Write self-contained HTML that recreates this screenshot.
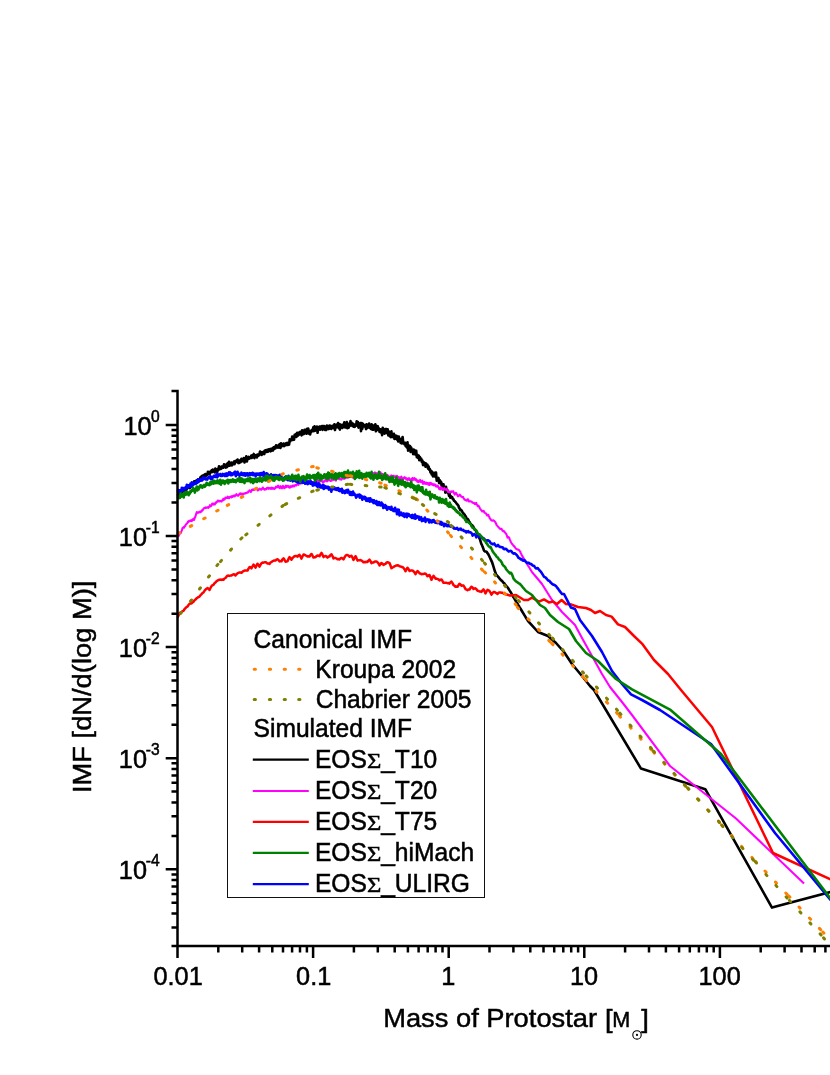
<!DOCTYPE html>
<html><head><meta charset="utf-8"><title>IMF</title>
<style>html,body{margin:0;padding:0;background:#fff}svg{display:block;will-change:transform}</style></head>
<body>
<svg width="830" height="1075" viewBox="0 0 830 1075">
<rect width="830" height="1075" fill="#fff"/>
<defs><clipPath id="pc"><rect x="176.5" y="380" width="660" height="566"/></clipPath></defs>
<g clip-path="url(#pc)" fill="none" stroke-linejoin="round" stroke-linecap="butt">
<path d="M177.5,495.8 L178.1,494.1 L178.7,495.5 L179.4,492.0 L180.0,494.1 L180.6,492.6 L181.2,493.1 L181.8,491.4 L182.5,491.8 L183.1,489.4 L183.7,491.2 L184.3,489.3 L184.9,491.0 L185.6,489.1 L186.2,490.4 L186.8,487.1 L187.4,488.5 L188.0,485.4 L188.7,486.9 L189.3,486.2 L189.9,488.1 L190.5,485.8 L191.1,486.7 L191.8,483.6 L192.4,485.5 L193.0,483.7 L193.6,483.7 L194.2,481.2 L194.9,482.5 L195.5,481.1 L196.1,481.7 L196.7,480.4 L197.3,481.3 L198.0,479.7 L198.6,480.1 L199.2,479.2 L199.8,479.7 L200.4,477.2 L201.1,479.8 L201.7,476.1 L202.3,477.8 L202.9,475.5 L203.5,476.2 L204.2,474.8 L204.8,476.4 L205.4,474.0 L206.0,475.9 L206.6,474.0 L207.3,475.1 L207.9,471.8 L208.5,473.9 L209.1,472.2 L209.7,474.1 L210.4,471.5 L211.0,472.2 L211.6,470.4 L212.2,472.1 L212.8,469.5 L213.5,471.3 L214.1,470.2 L214.7,472.3 L215.3,468.6 L215.9,470.9 L216.6,469.6 L217.2,472.4 L217.8,468.7 L218.4,470.0 L219.0,466.3 L219.7,469.3 L220.3,467.7 L220.9,468.8 L221.5,466.6 L222.1,468.1 L222.8,466.3 L223.4,467.7 L224.0,464.3 L224.6,466.7 L225.2,465.2 L225.9,467.6 L226.5,464.2 L227.1,467.1 L227.7,463.1 L228.3,465.7 L229.0,461.9 L229.6,465.7 L230.2,464.0 L230.8,465.2 L231.4,462.6 L232.1,465.3 L232.7,463.5 L233.3,463.4 L233.9,461.7 L234.5,464.3 L235.2,461.1 L235.8,462.1 L236.4,460.6 L237.0,462.0 L237.6,459.6 L238.3,463.1 L238.9,461.2 L239.5,462.8 L240.1,460.4 L240.7,462.2 L241.4,458.8 L242.0,461.3 L242.6,460.1 L243.2,460.8 L243.8,458.0 L244.5,462.5 L245.1,458.8 L245.7,460.7 L246.3,456.3 L246.9,461.5 L247.6,457.6 L248.2,459.0 L248.8,456.9 L249.4,458.6 L250.0,457.5 L250.7,457.9 L251.3,455.5 L251.9,457.9 L252.5,455.4 L253.1,456.4 L253.8,453.9 L254.4,458.1 L255.0,456.0 L255.6,456.6 L256.2,455.1 L256.9,457.4 L257.5,454.6 L258.1,455.9 L258.7,454.3 L259.3,455.1 L260.0,451.5 L260.6,454.1 L261.2,452.2 L261.8,454.9 L262.4,452.7 L263.1,453.0 L263.7,451.5 L264.3,454.1 L264.9,450.5 L265.5,452.0 L266.2,450.1 L266.8,451.9 L267.4,449.8 L268.0,451.7 L268.6,449.4 L269.3,450.7 L269.9,449.1 L270.5,451.3 L271.1,448.9 L271.7,450.8 L272.4,448.3 L273.0,450.5 L273.6,447.2 L274.2,449.0 L274.8,446.8 L275.5,448.4 L276.1,445.2 L276.7,447.2 L277.3,446.6 L277.9,447.6 L278.6,445.2 L279.2,447.4 L279.8,444.1 L280.4,448.0 L281.0,443.3 L281.7,446.4 L282.3,444.5 L282.9,445.7 L283.5,443.5 L284.1,446.2 L284.8,444.0 L285.4,445.4 L286.0,443.3 L286.6,445.0 L287.2,442.9 L287.9,444.9 L288.5,442.9 L289.1,444.6 L289.7,439.3 L290.3,441.2 L291.0,439.5 L291.6,439.9 L292.2,436.5 L292.8,440.0 L293.4,437.3 L294.1,439.7 L294.7,434.7 L295.3,436.5 L295.9,434.2 L296.5,436.9 L297.2,432.7 L297.8,435.7 L298.4,433.3 L299.0,434.8 L299.6,432.1 L300.3,433.8 L300.9,431.8 L301.5,435.4 L302.1,430.2 L302.7,434.4 L303.4,431.0 L304.0,433.9 L304.6,429.7 L305.2,433.3 L305.8,429.8 L306.5,433.8 L307.1,428.8 L307.7,431.1 L308.3,428.6 L308.9,433.6 L309.6,431.1 L310.2,434.4 L310.8,430.7 L311.4,431.9 L312.0,429.8 L312.7,430.8 L313.3,427.3 L313.9,431.2 L314.5,426.4 L315.1,430.6 L315.8,428.0 L316.4,429.8 L317.0,426.6 L317.6,432.8 L318.2,427.4 L318.9,429.2 L319.5,426.6 L320.1,429.7 L320.7,426.5 L321.3,428.8 L322.0,426.1 L322.6,429.9 L323.2,426.1 L323.8,427.5 L324.4,426.1 L325.1,430.0 L325.7,426.9 L326.3,430.0 L326.9,425.6 L327.5,428.1 L328.2,426.3 L328.8,429.1 L329.4,425.6 L330.0,428.5 L330.6,425.7 L331.3,429.0 L331.9,426.4 L332.5,427.2 L333.1,425.6 L333.7,428.2 L334.4,424.2 L335.0,430.0 L335.6,425.5 L336.2,427.6 L336.8,424.6 L337.5,426.6 L338.1,423.0 L338.7,428.2 L339.3,424.3 L339.9,429.6 L340.6,424.5 L341.2,426.8 L341.8,425.4 L342.4,428.0 L343.0,424.6 L343.7,426.3 L344.3,422.2 L344.9,427.4 L345.5,424.1 L346.1,427.4 L346.8,422.1 L347.4,428.2 L348.0,425.0 L348.6,427.7 L349.2,423.5 L349.9,425.9 L350.5,421.1 L351.1,425.3 L351.7,422.7 L352.3,425.9 L353.0,423.7 L353.6,426.7 L354.2,424.5 L354.8,426.8 L355.4,424.6 L356.1,425.4 L356.7,421.2 L357.3,425.9 L357.9,422.0 L358.5,427.6 L359.2,423.8 L359.8,425.5 L360.4,423.1 L361.0,431.1 L361.6,423.1 L362.3,428.9 L362.9,423.8 L363.5,426.3 L364.1,424.9 L364.7,426.5 L365.4,425.0 L366.0,429.1 L366.6,424.2 L367.2,428.1 L367.8,425.2 L368.5,427.4 L369.1,423.6 L369.7,427.9 L370.3,426.6 L370.9,428.9 L371.6,424.3 L372.2,429.6 L372.8,425.3 L373.4,429.8 L374.0,426.9 L374.7,428.8 L375.3,424.4 L375.9,431.3 L376.5,425.7 L377.1,429.7 L377.8,426.3 L378.4,430.3 L379.0,428.5 L379.6,431.9 L380.2,429.3 L380.9,432.4 L381.5,429.6 L382.1,435.2 L382.7,427.8 L383.3,432.2 L384.0,429.6 L384.6,433.7 L385.2,429.0 L385.8,432.9 L386.4,429.1 L387.1,433.2 L387.7,429.3 L388.3,435.3 L388.9,431.5 L389.5,436.1 L390.2,432.6 L390.8,437.2 L391.4,431.3 L392.0,436.9 L392.6,434.8 L393.3,437.1 L393.9,433.9 L394.5,439.0 L395.1,435.5 L395.7,438.8 L396.4,435.7 L397.0,439.6 L397.6,436.6 L398.2,441.5 L398.8,436.6 L399.5,441.2 L400.1,438.9 L400.7,443.0 L401.3,438.9 L401.9,443.5 L402.6,437.0 L403.2,442.4 L403.8,442.6 L404.4,444.2 L405.0,442.8 L405.7,446.2 L406.3,443.8 L406.9,447.5 L407.5,442.2 L408.1,450.6 L408.8,445.5 L409.4,448.1 L410.0,446.0 L410.6,451.9 L411.2,447.5 L411.9,450.5 L412.5,449.6 L413.1,454.2 L413.7,449.5 L414.3,454.1 L415.0,450.6 L415.6,454.6 L416.2,450.7 L416.8,457.1 L417.4,454.8 L418.1,457.9 L418.7,455.5 L419.3,460.3 L419.9,457.0 L420.5,459.9 L421.2,458.7 L421.8,462.0 L422.4,460.5 L423.0,465.1 L423.6,462.3 L424.3,465.0 L424.9,462.9 L425.5,466.7 L426.1,463.5 L426.7,465.8 L427.4,464.6 L428.0,468.6 L428.6,466.4 L429.2,469.7 L429.8,469.0 L430.5,472.5 L431.1,470.8 L431.7,474.5 L432.3,471.7 L432.9,476.4 L433.6,474.0 L434.2,476.1 L434.8,472.8 L435.4,476.9 L436.0,472.5 L436.7,480.7 L437.3,478.5 L437.9,480.2 L438.5,477.9 L439.1,483.2 L439.8,480.3 L440.4,482.6 L441.0,481.6 L441.6,485.9 L442.2,483.7 L442.9,489.2 L443.5,484.4 L444.1,489.2 L444.7,487.0 L445.3,492.6 L446.0,486.7 L446.6,491.5 L447.2,489.9 L447.8,493.1 L448.4,492.9 L449.1,496.0 L449.7,493.8 L450.3,497.8 L450.9,496.2 L451.5,497.1 L452.2,497.1 L452.8,499.1 L453.4,499.1 L454.0,500.8 L454.6,501.0 L455.3,501.9 L455.9,502.3 L456.5,503.4 L457.1,503.9 L457.7,505.0 L458.4,505.7 L459.0,507.8 L459.6,508.3 L460.2,510.1 L460.8,509.7 L461.5,510.4 L462.1,511.2 L462.7,512.8 L463.3,513.0 L463.9,514.1 L464.6,514.6 L465.2,515.8 L465.8,516.4 L466.4,518.1 L467.0,518.6 L467.7,519.0 L468.3,519.8 L468.9,521.2 L469.5,522.0 L470.1,522.9 L470.8,523.9 L471.4,525.1 L472.0,525.0 L472.6,525.8 L473.2,526.4 L473.9,528.0 L474.5,529.4 L475.1,529.9 L475.7,530.3 L476.3,531.7 L477.0,532.8 L477.6,534.1 L478.2,535.3 L478.8,537.0 L479.4,538.2 L480.1,539.8 L480.7,541.8 L481.3,543.8 L481.9,544.9 L482.5,546.6 L483.2,548.2 L483.8,550.1 L484.4,551.0 L485.0,551.4 L485.6,551.5 L486.3,551.7 L486.9,552.1 L487.5,553.3 L488.1,553.8 L488.7,555.2 L489.4,556.4 L490.0,557.8 L490.6,559.1 L491.2,560.5 L491.8,561.5 L492.5,563.5 L493.1,565.4 L493.7,567.4 L494.3,569.4 L494.9,571.3 L495.6,572.9 L496.2,574.8 L496.8,575.3 L497.4,576.1 L498.0,576.6 L498.7,577.4 L499.3,578.1 L499.9,579.1 L500.5,579.6 L501.1,580.3 L501.8,580.6 L502.4,581.4 L503.0,582.1 L503.6,582.8 L504.2,583.1 L504.9,584.2 L505.5,585.0 L506.1,585.9 L506.7,586.5 L507.3,587.1 L508.0,587.8 L508.6,589.0 L509.2,589.9 L509.8,590.9 L510.4,591.8 L511.1,592.9 L511.7,594.0 L512.3,595.2 L512.9,596.2 L513.5,597.3 L514.2,598.2 L514.8,599.3 L515.4,600.3 L516.0,601.5 L516.6,602.5 L517.3,603.5 L517.9,604.5 L518.5,605.6 L519.1,606.4 L519.7,607.4 L520.4,608.4 L521.0,609.5 L521.6,610.5 L522.2,611.5 L522.8,612.5 L523.5,613.6 L524.1,614.7 L524.7,615.7 L525.3,616.7 L525.9,617.7 L526.6,618.7 L527.2,619.7 L527.8,620.7 L528.4,621.5 L529.0,622.2 L529.7,622.8 L538.0,632.0 L548.0,636.0 L556.0,643.0 L564.0,652.0 L572.0,664.0 L582.0,676.0 L590.0,686.0 L594.0,690.0 L641.0,768.6 L705.3,789.2 L772.0,907.6 L832.0,891.5" stroke="#000" stroke-width="2.6"/>
<path d="M177.5,536.0 L178.1,535.1 L178.6,536.1 L179.2,534.7 L179.7,533.7 L180.3,532.6 L180.8,532.9 L181.4,531.4 L181.9,530.4 L182.5,528.1 L183.0,528.0 L183.6,527.1 L184.1,527.7 L184.7,526.3 L185.2,526.1 L185.8,524.5 L186.3,524.1 L186.9,523.5 L187.4,523.2 L188.0,521.6 L188.5,522.0 L189.1,520.8 L189.6,520.9 L190.2,520.5 L190.7,520.9 L191.3,520.2 L191.8,521.1 L192.4,519.8 L192.9,519.4 L193.5,518.7 L194.0,520.0 L194.6,518.3 L195.1,517.3 L195.7,515.5 L196.2,513.9 L196.8,512.2 L197.3,512.9 L197.9,512.3 L198.4,512.7 L199.0,512.1 L199.5,512.3 L200.1,511.5 L200.6,512.2 L201.2,511.0 L201.7,511.2 L202.3,509.9 L202.8,510.1 L203.4,508.9 L203.9,508.3 L204.5,508.0 L205.0,508.2 L205.6,507.3 L206.1,508.0 L206.7,507.5 L207.2,507.5 L207.8,507.2 L208.3,507.9 L208.9,506.9 L209.4,506.8 L210.0,505.2 L210.5,506.3 L211.1,505.9 L211.6,505.5 L212.2,503.7 L212.7,504.2 L213.3,503.6 L213.8,504.6 L214.4,504.2 L214.9,504.4 L215.5,502.6 L216.0,502.9 L216.6,501.8 L217.1,501.9 L217.7,500.7 L218.2,501.3 L218.8,500.7 L219.3,501.5 L219.9,501.0 L220.4,501.2 L221.0,500.7 L221.5,501.5 L222.1,500.7 L222.6,500.3 L223.2,498.8 L223.7,500.1 L224.3,498.8 L224.8,499.1 L225.4,497.5 L225.9,498.0 L226.5,497.7 L227.0,497.9 L227.6,496.7 L228.1,497.8 L228.7,497.4 L229.2,498.1 L229.8,497.0 L230.3,496.8 L230.9,496.6 L231.4,497.3 L232.0,496.1 L232.5,496.8 L233.1,495.9 L233.6,496.1 L234.2,495.3 L234.7,496.4 L235.3,495.3 L235.8,495.4 L236.4,494.2 L236.9,495.3 L237.5,495.4 L238.0,495.8 L238.6,495.0 L239.1,494.8 L239.7,493.5 L240.2,494.4 L240.8,493.4 L241.3,494.1 L241.9,493.8 L242.4,494.6 L243.0,493.6 L243.5,494.0 L244.1,493.5 L244.6,493.6 L245.2,493.0 L245.7,493.3 L246.3,492.7 L246.8,492.9 L247.4,492.4 L247.9,492.5 L248.5,491.2 L249.0,491.3 L249.6,490.3 L250.1,491.5 L250.7,491.9 L251.2,491.4 L251.8,489.8 L252.3,490.2 L252.9,489.4 L253.4,489.9 L254.0,489.4 L254.5,489.8 L255.1,488.6 L255.6,488.9 L256.2,488.5 L256.7,489.3 L257.3,489.6 L257.8,490.5 L258.4,489.3 L258.9,489.6 L259.5,488.7 L260.0,489.3 L260.6,489.3 L261.1,489.8 L261.7,488.9 L262.2,488.9 L262.8,487.5 L263.3,488.8 L263.9,488.8 L264.4,489.6 L265.0,488.8 L265.5,489.4 L266.1,488.7 L266.6,489.1 L267.2,487.7 L267.7,487.7 L268.3,487.8 L268.8,488.8 L269.4,488.1 L269.9,488.3 L270.5,488.0 L271.0,488.9 L271.6,487.6 L272.1,488.6 L272.7,487.9 L273.2,488.7 L273.8,488.4 L274.3,489.0 L274.9,488.0 L275.4,488.2 L276.0,486.7 L276.5,487.3 L277.1,486.5 L277.6,487.2 L278.2,485.7 L278.7,487.3 L279.3,487.0 L279.8,488.2 L280.4,486.2 L280.9,486.9 L281.5,487.4 L282.0,488.3 L282.6,486.2 L283.1,485.9 L283.7,486.5 L284.2,488.3 L284.8,487.2 L285.3,487.6 L285.9,485.7 L286.4,487.0 L287.0,485.9 L287.5,486.3 L288.1,485.9 L288.6,487.3 L289.2,487.3 L289.7,487.6 L290.3,486.1 L290.8,487.1 L291.4,486.4 L291.9,486.7 L292.5,485.7 L293.0,486.3 L293.6,485.6 L294.1,486.4 L294.7,485.4 L295.2,485.5 L295.8,484.9 L296.3,485.5 L296.9,484.3 L297.4,484.1 L298.0,483.4 L298.5,484.8 L299.1,483.4 L299.6,482.8 L300.2,482.3 L300.7,483.7 L301.3,483.3 L301.8,482.9 L302.4,481.3 L302.9,482.4 L303.5,482.6 L304.0,483.1 L304.6,481.8 L305.1,482.0 L305.7,481.5 L306.2,482.3 L306.8,482.0 L307.3,482.2 L307.9,481.2 L308.4,481.6 L309.0,481.0 L309.5,482.0 L310.1,481.3 L310.6,481.6 L311.2,481.6 L311.7,482.8 L312.3,482.3 L312.8,482.6 L313.4,482.2 L313.9,482.3 L314.5,481.4 L315.0,481.9 L315.6,481.5 L316.1,482.0 L316.7,480.7 L317.2,481.1 L317.8,479.9 L318.3,481.3 L318.9,481.3 L319.4,481.9 L320.0,480.6 L320.5,481.2 L321.1,480.4 L321.6,480.9 L322.2,481.1 L322.7,482.3 L323.3,481.8 L323.8,482.0 L324.4,480.8 L324.9,480.7 L325.5,479.9 L326.0,481.2 L326.6,480.5 L327.1,481.3 L327.7,480.6 L328.2,480.5 L328.8,479.2 L329.3,480.0 L329.9,480.1 L330.4,480.9 L331.0,480.7 L331.5,480.8 L332.1,479.3 L332.6,479.6 L333.2,479.1 L333.7,479.8 L334.3,478.6 L334.8,479.6 L335.4,479.5 L335.9,480.6 L336.5,478.6 L337.0,478.3 L337.6,477.4 L338.1,478.6 L338.7,477.8 L339.2,479.1 L339.8,478.5 L340.3,479.5 L340.9,479.2 L341.4,479.6 L342.0,478.2 L342.5,478.4 L343.1,477.6 L343.6,478.7 L344.2,478.2 L344.7,478.7 L345.3,476.9 L345.8,477.2 L346.4,476.7 L346.9,477.7 L347.5,476.8 L348.0,477.7 L348.6,476.7 L349.1,476.3 L349.7,475.7 L350.2,476.6 L350.8,475.7 L351.3,476.5 L351.9,475.9 L352.4,477.3 L353.0,476.8 L353.5,477.7 L354.1,476.4 L354.6,476.1 L355.2,474.6 L355.7,476.1 L356.3,476.0 L356.8,476.5 L357.4,476.0 L357.9,476.7 L358.5,476.3 L359.0,476.8 L359.6,475.2 L360.1,476.6 L360.7,475.6 L361.2,476.4 L361.8,474.6 L362.3,476.2 L362.9,474.7 L363.4,474.7 L364.0,474.1 L364.5,475.5 L365.1,474.6 L365.6,476.5 L366.2,475.2 L366.7,476.2 L367.3,475.6 L367.8,475.6 L368.4,473.4 L368.9,474.4 L369.5,473.4 L370.0,475.1 L370.6,474.7 L371.1,475.4 L371.7,474.0 L372.2,474.1 L372.8,473.6 L373.3,474.3 L373.9,473.0 L374.4,474.1 L375.0,472.4 L375.5,474.0 L376.1,473.2 L376.6,473.9 L377.2,473.3 L377.7,475.3 L378.3,473.7 L378.8,474.9 L379.4,474.0 L379.9,474.7 L380.5,472.3 L381.0,474.7 L381.6,473.6 L382.1,475.3 L382.7,474.0 L383.2,475.9 L383.8,475.9 L384.3,476.8 L384.9,475.9 L385.4,477.5 L386.0,475.2 L386.5,475.5 L387.1,474.8 L387.6,476.0 L388.2,475.6 L388.7,477.7 L389.3,476.7 L389.8,477.3 L390.4,476.3 L390.9,477.4 L391.5,475.4 L392.0,477.1 L392.6,476.1 L393.1,476.4 L393.7,475.6 L394.2,477.4 L394.8,476.9 L395.3,477.4 L395.9,476.2 L396.4,476.9 L397.0,475.8 L397.5,478.2 L398.1,476.9 L398.6,478.7 L399.2,477.4 L399.7,479.0 L400.3,477.3 L400.8,477.6 L401.4,476.6 L401.9,479.3 L402.5,478.5 L403.0,479.9 L403.6,477.9 L404.1,478.0 L404.7,477.1 L405.2,478.3 L405.8,478.0 L406.3,479.4 L406.9,478.4 L407.4,479.9 L408.0,478.9 L408.5,479.6 L409.1,478.1 L409.6,480.1 L410.2,479.3 L410.7,480.6 L411.3,479.0 L411.8,480.3 L412.4,478.0 L412.9,480.1 L413.5,478.4 L414.0,479.2 L414.6,478.1 L415.1,479.9 L415.7,478.8 L416.2,480.5 L416.8,479.9 L417.3,481.7 L417.9,480.6 L418.4,482.3 L419.0,481.3 L419.5,481.2 L420.1,479.9 L420.6,481.9 L421.2,481.1 L421.7,481.9 L422.3,480.6 L422.8,483.6 L423.4,482.0 L423.9,483.8 L424.5,482.0 L425.0,483.3 L425.6,483.1 L426.1,484.0 L426.7,482.6 L427.2,483.5 L427.8,483.0 L428.3,484.7 L428.9,483.3 L429.4,485.0 L430.0,482.7 L430.5,484.2 L431.1,483.1 L431.6,484.4 L432.2,483.9 L432.7,484.9 L433.3,484.2 L433.8,485.3 L434.4,484.3 L434.9,485.4 L435.5,484.7 L436.0,486.5 L436.6,486.3 L437.1,486.8 L437.7,485.7 L438.2,486.7 L438.8,487.4 L439.3,489.3 L439.9,488.0 L440.4,489.5 L441.0,487.4 L441.5,487.8 L442.1,488.1 L442.6,489.9 L443.2,488.6 L443.7,488.8 L444.3,488.1 L444.8,489.8 L445.4,489.4 L445.9,489.6 L446.5,488.8 L447.0,490.1 L447.6,490.1 L448.1,492.1 L448.7,491.9 L449.2,492.3 L449.8,491.5 L450.3,492.2 L450.9,491.5 L451.4,491.9 L452.0,491.3 L452.5,491.7 L453.1,491.2 L453.6,492.5 L454.2,493.3 L454.7,494.6 L455.3,493.5 L455.8,492.9 L456.4,493.4 L456.9,494.6 L457.5,495.2 L458.0,496.4 L458.6,496.0 L459.1,495.5 L459.7,494.6 L460.2,495.4 L460.8,495.9 L461.3,496.7 L461.9,496.7 L462.4,497.2 L463.0,496.8 L463.5,498.0 L464.1,498.9 L464.6,499.8 L465.2,499.9 L465.7,500.3 L466.3,500.2 L466.8,500.7 L467.4,499.7 L467.9,499.2 L468.5,500.2 L469.0,501.5 L469.6,501.4 L470.1,501.5 L470.7,501.3 L471.2,501.5 L471.8,501.7 L472.3,502.5 L472.9,502.8 L473.4,503.0 L474.0,502.8 L474.5,503.9 L475.1,504.1 L475.6,503.7 L476.2,502.8 L476.7,504.1 L477.3,505.4 L477.8,506.2 L478.4,505.7 L478.9,506.3 L479.5,507.4 L480.0,508.7 L480.6,509.2 L481.1,510.1 L481.7,510.5 L482.2,511.5 L482.8,511.0 L483.3,510.8 L483.9,511.2 L484.4,512.5 L485.0,513.0 L485.5,513.2 L486.1,513.4 L486.6,514.7 L487.2,515.5 L487.7,515.3 L488.3,514.9 L488.8,516.2 L489.4,517.3 L489.9,518.5 L490.5,519.1 L491.0,520.0 L491.6,520.4 L492.1,520.8 L492.7,520.3 L493.2,520.3 L493.8,520.6 L494.3,521.2 L494.9,521.6 L495.4,522.3 L496.0,523.4 L496.5,524.8 L497.1,525.6 L497.6,526.2 L498.2,526.7 L498.7,527.5 L499.3,528.0 L499.8,528.7 L500.4,528.9 L500.9,529.0 L501.5,528.8 L502.0,529.8 L502.6,530.8 L503.1,531.2 L503.7,530.9 L504.2,531.5 L504.8,532.2 L505.3,533.0 L505.9,533.4 L506.4,534.3 L507.0,535.8 L507.5,537.6 L508.1,537.0 L508.6,537.0 L509.2,537.9 L509.7,539.4 L510.3,540.6 L510.8,542.0 L511.4,542.9 L511.9,543.8 L512.5,544.2 L513.0,545.1 L513.6,545.8 L514.1,546.4 L514.7,546.9 L515.2,547.7 L515.8,548.4 L516.3,548.9 L516.9,549.2 L517.4,549.5 L518.0,549.5 L518.5,549.8 L519.1,550.2 L519.6,550.8 L520.2,551.7 L520.7,553.0 L521.3,554.1 L521.8,555.4 L522.4,556.2 L522.9,557.2 L523.5,558.1 L524.0,559.1 L524.6,559.9 L525.1,560.7 L525.7,561.4 L526.2,562.2 L526.8,562.9 L527.3,564.3 L527.9,565.5 L528.4,566.2 L529.0,566.9 L529.5,567.8 L530.1,568.9 L530.6,569.9 L531.2,570.7 L531.7,571.6 L532.3,572.4 L532.8,573.0 L533.4,573.7 L533.9,574.3 L534.5,575.0 L542.0,584.0 L552.0,600.0 L562.0,612.0 L575.0,625.0 L582.0,638.0 L592.0,656.0 L602.0,674.0 L610.0,687.0 L622.0,702.0 L632.0,715.0 L670.0,766.0 L736.0,818.5 L804.0,883.6" stroke="#f0f" stroke-width="2.1"/>
<path d="M177.5,617.7 L178.5,615.4 L179.5,613.3 L180.5,612.4 L181.5,612.1 L182.5,611.2 L183.5,610.9 L184.5,609.2 L185.5,608.1 L186.5,607.0 L187.5,606.6 L188.5,605.0 L189.5,603.9 L190.5,603.3 L191.5,603.5 L192.5,602.4 L193.5,601.7 L194.5,600.3 L195.5,599.6 L196.5,598.4 L197.5,597.8 L198.5,596.9 L199.5,596.7 L200.5,595.1 L201.5,594.2 L202.5,593.1 L203.5,592.4 L204.5,590.8 L205.5,589.6 L206.5,588.7 L207.5,588.1 L208.5,588.8 L209.5,590.0 L210.5,588.0 L211.5,586.2 L212.5,585.2 L213.5,584.9 L214.5,583.2 L215.5,582.4 L216.5,581.2 L217.5,580.6 L218.5,580.0 L219.5,579.7 L220.5,579.6 L221.5,579.9 L222.5,579.4 L223.5,579.8 L224.5,578.5 L225.5,578.0 L226.5,576.7 L227.5,575.7 L228.5,575.6 L229.5,575.9 L230.5,575.6 L231.5,575.6 L232.5,574.8 L233.5,574.2 L234.5,574.5 L235.5,575.5 L236.5,574.3 L237.5,573.4 L238.5,572.8 L239.5,572.4 L240.5,572.5 L241.5,572.8 L242.5,571.8 L243.5,571.1 L244.5,570.6 L245.5,570.6 L246.5,570.5 L247.5,570.6 L248.5,568.6 L249.5,567.1 L250.5,567.2 L251.5,568.3 L252.5,566.3 L253.5,564.6 L254.5,565.9 L255.5,567.7 L256.5,565.4 L257.5,563.7 L258.5,565.0 L259.5,566.6 L260.5,564.7 L261.5,563.2 L262.5,562.5 L263.5,562.7 L264.5,562.3 L265.5,562.2 L266.5,562.7 L267.5,563.5 L268.5,563.5 L269.5,563.9 L270.5,562.6 L271.5,561.9 L272.5,561.2 L273.5,560.8 L274.5,560.5 L275.5,560.5 L276.5,559.6 L277.5,559.2 L278.5,559.9 L279.5,561.4 L280.5,561.1 L281.5,561.3 L282.5,559.4 L283.5,558.3 L284.5,559.8 L285.5,561.8 L286.5,561.4 L287.5,561.3 L288.5,558.9 L289.5,557.1 L290.5,558.3 L291.5,559.7 L292.5,558.0 L293.5,557.1 L294.5,556.3 L295.5,556.0 L296.5,556.0 L297.5,556.6 L298.5,555.4 L299.5,554.9 L300.5,556.5 L301.5,558.6 L302.5,556.3 L303.5,554.5 L304.5,554.8 L305.5,555.4 L306.5,555.8 L307.5,556.5 L308.5,556.2 L309.5,556.4 L310.5,555.0 L311.5,554.0 L312.5,555.7 L313.5,557.6 L314.5,557.3 L315.5,557.3 L316.5,556.1 L317.5,555.4 L318.5,555.7 L319.5,556.3 L320.5,554.3 L321.5,552.9 L322.5,554.7 L323.5,557.1 L324.5,556.3 L325.5,555.9 L326.5,556.5 L327.5,557.6 L328.5,556.5 L329.5,556.5 L330.5,555.0 L331.5,554.3 L332.5,556.1 L333.5,558.5 L334.5,557.9 L335.5,558.0 L336.5,558.5 L337.5,559.2 L338.5,559.1 L339.5,559.5 L340.5,558.4 L341.5,557.9 L342.5,558.3 L343.5,559.4 L344.5,557.4 L345.5,555.8 L346.5,555.1 L347.5,555.1 L348.5,555.6 L349.5,556.8 L350.5,556.1 L351.5,555.8 L352.5,557.6 L353.5,560.0 L354.5,558.0 L355.5,556.2 L356.5,558.1 L357.5,560.6 L358.5,560.2 L359.5,560.2 L360.5,560.1 L361.5,560.6 L362.5,561.3 L363.5,562.3 L364.5,562.0 L365.5,562.2 L366.5,561.7 L367.5,561.9 L368.5,560.6 L369.5,559.6 L370.5,561.1 L371.5,563.1 L372.5,562.5 L373.5,562.6 L374.5,561.8 L375.5,561.5 L376.5,561.5 L377.5,562.2 L378.5,563.5 L379.5,565.4 L380.5,564.0 L381.5,563.0 L382.5,563.8 L383.5,564.9 L384.5,564.2 L385.5,563.9 L386.5,562.6 L387.5,562.2 L388.5,562.4 L389.5,563.1 L390.5,565.5 L391.5,568.2 L392.5,567.4 L393.5,567.1 L394.5,566.2 L395.5,565.9 L396.5,565.4 L397.5,565.2 L398.5,565.5 L399.5,566.2 L400.5,566.4 L401.5,566.9 L402.5,567.0 L403.5,567.9 L404.5,569.3 L405.5,571.3 L406.5,569.2 L407.5,567.8 L408.5,569.1 L409.5,571.0 L410.5,570.6 L411.5,570.5 L412.5,570.5 L413.5,571.3 L414.5,572.4 L415.5,574.1 L416.5,572.3 L417.5,571.1 L418.5,571.9 L419.5,573.4 L420.5,573.6 L421.5,574.3 L422.5,573.9 L423.5,574.0 L424.5,573.5 L425.5,573.7 L426.5,574.7 L427.5,576.2 L428.5,575.4 L429.5,575.0 L430.5,577.2 L431.5,579.8 L432.5,577.5 L433.5,575.9 L434.5,577.1 L435.5,578.7 L436.5,578.5 L437.5,579.0 L438.5,579.4 L439.5,580.4 L440.5,579.7 L441.5,579.5 L442.5,581.0 L443.5,582.8 L444.5,582.7 L445.5,582.8 L446.5,582.8 L447.5,583.2 L448.5,583.1 L449.5,583.6 L450.5,582.3 L451.5,581.6 L452.5,583.1 L453.5,585.1 L454.5,585.7 L455.5,586.8 L456.5,586.6 L457.5,586.8 L458.5,585.1 L459.5,583.7 L460.5,584.5 L461.5,585.8 L462.5,585.4 L463.5,585.6 L464.5,587.1 L465.5,589.1 L466.5,589.6 L467.5,590.3 L468.5,589.6 L469.5,589.5 L470.5,587.8 L471.5,586.7 L472.5,587.5 L473.5,589.0 L474.5,588.4 L475.5,588.3 L476.5,589.3 L477.5,590.7 L478.5,590.9 L479.5,591.5 L480.5,591.5 L481.5,591.9 L482.5,590.4 L483.5,589.3 L484.5,591.1 L485.5,593.4 L486.5,591.4 L487.5,589.8 L488.5,590.3 L489.5,591.1 L490.5,592.7 L491.5,594.6 L492.5,593.1 L493.5,592.0 L494.5,592.0 L495.5,592.6 L496.5,593.2 L497.5,593.9 L498.5,592.7 L499.5,592.4 L500.5,592.4 L501.5,592.8 L502.5,592.8 L503.5,593.5 L504.5,593.7 L510.0,595.6 L516.0,595.0 L524.0,600.0 L528.0,600.0 L532.0,597.6 L539.0,601.6 L544.0,599.4 L549.0,602.4 L553.0,601.6 L557.0,604.0 L561.6,600.0 L566.0,604.0 L571.0,604.4 L578.0,607.0 L586.0,608.0 L591.0,610.0 L595.0,613.0 L600.0,611.0 L606.0,615.0 L611.6,616.6 L618.0,624.4 L625.0,627.0 L634.0,636.0 L642.0,643.6 L654.0,660.0 L668.0,674.0 L681.0,690.0 L712.0,727.0 L773.0,853.0 L832.0,880.0" stroke="#f00" stroke-width="2.5"/>
<path d="M177.5,492.3 L178.1,490.1 L178.7,492.3 L179.4,490.3 L180.0,492.8 L180.6,490.1 L181.2,491.7 L181.8,487.8 L182.5,490.5 L183.1,488.0 L183.7,489.8 L184.3,488.3 L184.9,489.0 L185.6,487.1 L186.2,488.6 L186.8,484.8 L187.4,487.8 L188.0,485.5 L188.7,487.1 L189.3,485.4 L189.9,487.0 L190.5,483.5 L191.1,486.5 L191.8,482.4 L192.4,485.6 L193.0,483.6 L193.6,484.5 L194.2,482.7 L194.9,483.9 L195.5,482.5 L196.1,483.7 L196.7,481.3 L197.3,482.9 L198.0,479.2 L198.6,482.0 L199.2,480.1 L199.8,480.9 L200.4,479.3 L201.1,480.7 L201.7,479.3 L202.3,480.3 L202.9,477.6 L203.5,479.3 L204.2,477.8 L204.8,478.8 L205.4,478.0 L206.0,479.5 L206.6,479.0 L207.3,479.7 L207.9,477.8 L208.5,477.9 L209.1,476.9 L209.7,478.2 L210.4,476.3 L211.0,479.3 L211.6,477.8 L212.2,479.3 L212.8,476.8 L213.5,476.5 L214.1,475.7 L214.7,476.8 L215.3,475.7 L215.9,476.9 L216.6,473.8 L217.2,477.4 L217.8,475.4 L218.4,476.1 L219.0,474.4 L219.7,475.2 L220.3,474.0 L220.9,475.9 L221.5,474.8 L222.1,475.9 L222.8,473.9 L223.4,475.3 L224.0,474.6 L224.6,475.8 L225.2,473.9 L225.9,475.8 L226.5,473.4 L227.1,476.0 L227.7,473.9 L228.3,475.1 L229.0,472.4 L229.6,474.4 L230.2,472.4 L230.8,475.3 L231.4,473.2 L232.1,475.1 L232.7,473.5 L233.3,474.3 L233.9,472.6 L234.5,474.1 L235.2,471.7 L235.8,476.1 L236.4,473.5 L237.0,474.9 L237.6,471.8 L238.3,474.4 L238.9,473.5 L239.5,475.9 L240.1,474.0 L240.7,474.6 L241.4,472.7 L242.0,475.0 L242.6,473.5 L243.2,475.1 L243.8,473.3 L244.5,475.4 L245.1,473.4 L245.7,475.7 L246.3,473.4 L246.9,474.8 L247.6,473.3 L248.2,475.6 L248.8,474.0 L249.4,475.2 L250.0,473.2 L250.7,475.0 L251.3,473.3 L251.9,474.5 L252.5,472.8 L253.1,475.2 L253.8,473.4 L254.4,474.5 L255.0,474.0 L255.6,476.5 L256.2,473.5 L256.9,474.7 L257.5,473.7 L258.1,474.9 L258.7,473.7 L259.3,474.9 L260.0,473.3 L260.6,475.5 L261.2,473.0 L261.8,474.8 L262.4,473.6 L263.1,475.5 L263.7,472.1 L264.3,476.4 L264.9,474.8 L265.5,475.6 L266.2,473.3 L266.8,475.1 L267.4,473.6 L268.0,476.7 L268.6,474.9 L269.3,476.6 L269.9,475.7 L270.5,477.9 L271.1,474.3 L271.7,476.3 L272.4,475.5 L273.0,476.1 L273.6,475.1 L274.2,477.5 L274.8,475.1 L275.5,476.5 L276.1,475.1 L276.7,476.9 L277.3,475.5 L277.9,478.1 L278.6,475.7 L279.2,479.4 L279.8,474.7 L280.4,478.0 L281.0,475.9 L281.7,478.9 L282.3,477.7 L282.9,479.8 L283.5,478.3 L284.1,478.9 L284.8,477.1 L285.4,478.8 L286.0,476.7 L286.6,479.4 L287.2,478.0 L287.9,480.2 L288.5,475.9 L289.1,479.7 L289.7,477.8 L290.3,480.7 L291.0,478.3 L291.6,480.0 L292.2,479.4 L292.8,481.3 L293.4,479.4 L294.1,480.1 L294.7,479.1 L295.3,481.1 L295.9,480.2 L296.5,481.7 L297.2,479.9 L297.8,482.4 L298.4,480.2 L299.0,482.7 L299.6,480.4 L300.3,482.4 L300.9,480.3 L301.5,482.1 L302.1,480.5 L302.7,482.8 L303.4,480.3 L304.0,482.6 L304.6,482.1 L305.2,483.7 L305.8,480.1 L306.5,483.5 L307.1,481.7 L307.7,484.1 L308.3,481.5 L308.9,483.0 L309.6,481.7 L310.2,483.6 L310.8,481.3 L311.4,483.7 L312.0,482.1 L312.7,485.6 L313.3,483.2 L313.9,485.3 L314.5,482.6 L315.1,484.5 L315.8,482.2 L316.4,485.8 L317.0,483.8 L317.6,487.0 L318.2,483.4 L318.9,485.7 L319.5,483.9 L320.1,487.4 L320.7,485.4 L321.3,487.4 L322.0,485.8 L322.6,487.8 L323.2,484.7 L323.8,489.0 L324.4,485.9 L325.1,488.0 L325.7,486.6 L326.3,487.8 L326.9,486.7 L327.5,487.8 L328.2,486.8 L328.8,489.6 L329.4,487.5 L330.0,489.4 L330.6,488.6 L331.3,491.7 L331.9,488.2 L332.5,489.6 L333.1,488.1 L333.7,488.8 L334.4,487.4 L335.0,489.4 L335.6,488.9 L336.2,489.9 L336.8,488.3 L337.5,489.7 L338.1,488.0 L338.7,490.8 L339.3,489.0 L339.9,491.1 L340.6,489.4 L341.2,491.1 L341.8,488.7 L342.4,492.7 L343.0,490.4 L343.7,492.5 L344.3,491.3 L344.9,493.1 L345.5,490.6 L346.1,491.8 L346.8,490.0 L347.4,492.6 L348.0,489.7 L348.6,492.4 L349.2,491.7 L349.9,494.7 L350.5,492.0 L351.1,494.9 L351.7,492.4 L352.3,495.0 L353.0,491.6 L353.6,494.8 L354.2,493.5 L354.8,495.1 L355.4,494.6 L356.1,497.7 L356.7,495.4 L357.3,496.3 L357.9,494.9 L358.5,496.2 L359.2,494.5 L359.8,497.8 L360.4,495.0 L361.0,496.9 L361.6,496.0 L362.3,499.8 L362.9,497.1 L363.5,498.4 L364.1,496.8 L364.7,498.6 L365.4,497.1 L366.0,500.6 L366.6,498.5 L367.2,500.9 L367.8,498.8 L368.5,500.7 L369.1,498.4 L369.7,501.8 L370.3,498.2 L370.9,501.2 L371.6,499.6 L372.2,501.6 L372.8,500.3 L373.4,503.1 L374.0,500.3 L374.7,502.8 L375.3,502.3 L375.9,503.6 L376.5,501.1 L377.1,504.9 L377.8,502.2 L378.4,504.9 L379.0,502.1 L379.6,505.1 L380.2,503.1 L380.9,505.4 L381.5,502.5 L382.1,505.3 L382.7,503.9 L383.3,508.0 L384.0,505.5 L384.6,507.4 L385.2,505.1 L385.8,508.0 L386.4,506.2 L387.1,509.8 L387.7,507.6 L388.3,508.1 L388.9,507.1 L389.5,508.6 L390.2,507.8 L390.8,509.7 L391.4,506.8 L392.0,510.0 L392.6,508.8 L393.3,510.8 L393.9,509.0 L394.5,511.1 L395.1,507.8 L395.7,510.9 L396.4,509.6 L397.0,514.3 L397.6,509.5 L398.2,513.5 L398.8,509.7 L399.5,515.5 L400.1,512.6 L400.7,514.2 L401.3,512.7 L401.9,515.2 L402.6,513.9 L403.2,515.8 L403.8,513.4 L404.4,516.9 L405.0,514.4 L405.7,515.3 L406.3,513.7 L406.9,517.2 L407.5,513.9 L408.1,515.7 L408.8,514.2 L409.4,515.6 L410.0,515.7 L410.6,517.0 L411.2,515.4 L411.9,517.9 L412.5,514.9 L413.1,516.6 L413.7,516.3 L414.3,518.3 L415.0,514.5 L415.6,518.7 L416.2,515.9 L416.8,517.5 L417.4,516.3 L418.1,517.7 L418.7,516.5 L419.3,519.7 L419.9,518.2 L420.5,519.2 L421.2,517.2 L421.8,521.1 L422.4,519.2 L423.0,520.7 L423.6,519.1 L424.3,519.7 L424.9,517.5 L425.5,521.9 L426.1,519.5 L426.7,519.9 L427.4,519.3 L428.0,520.4 L428.6,519.5 L429.2,522.4 L429.8,519.9 L430.5,521.9 L431.1,521.2 L431.7,522.5 L432.3,520.3 L432.9,521.7 L433.6,520.0 L434.2,521.8 L434.8,521.3 L435.4,522.7 L436.0,521.4 L436.7,523.0 L437.3,521.8 L437.9,523.1 L438.5,521.3 L439.1,523.0 L439.8,522.6 L440.4,524.2 L441.0,521.9 L441.6,524.7 L442.2,522.7 L442.9,524.0 L443.5,524.5 L444.1,526.2 L444.7,523.8 L445.3,524.7 L446.0,524.3 L446.6,525.8 L447.2,525.5 L447.8,526.2 L448.4,525.0 L449.1,525.8 L449.7,526.1 L450.3,526.7 L450.9,525.9 L451.5,526.6 L452.2,526.3 L452.8,527.5 L453.4,527.1 L454.0,528.5 L454.6,528.1 L455.3,528.8 L455.9,528.6 L456.5,528.7 L457.1,527.9 L457.7,529.2 L458.4,529.9 L459.0,529.5 L459.6,528.8 L460.2,529.3 L460.8,528.5 L461.5,529.9 L462.1,530.1 L462.7,530.1 L463.3,529.9 L463.9,531.0 L464.6,531.1 L465.2,531.5 L465.8,531.1 L466.4,532.5 L467.0,531.6 L467.7,531.5 L468.3,531.2 L468.9,532.3 L469.5,532.3 L470.1,532.4 L470.8,532.4 L471.4,532.9 L472.0,533.9 L472.6,535.7 L473.2,534.7 L473.9,534.2 L474.5,534.1 L475.1,534.7 L475.7,535.8 L476.3,537.4 L477.0,536.0 L477.6,535.5 L478.2,535.7 L478.8,536.3 L479.4,536.7 L480.1,537.4 L480.7,537.3 L481.3,537.8 L481.9,537.8 L482.5,538.4 L483.2,538.0 L483.8,538.4 L484.4,538.9 L485.0,540.0 L485.6,540.8 L486.3,541.2 L486.9,540.4 L487.5,540.4 L488.1,540.2 L488.7,540.7 L489.4,541.0 L490.0,542.2 L490.6,542.9 L491.2,543.5 L491.8,543.6 L492.5,544.1 L493.1,544.1 L493.7,544.0 L494.3,543.5 L494.9,544.7 L495.6,545.5 L496.2,546.3 L496.8,546.2 L497.4,545.4 L498.0,544.8 L498.7,546.1 L499.3,546.6 L499.9,547.0 L500.5,546.8 L501.1,547.1 L501.8,547.2 L502.4,547.3 L503.0,547.7 L503.6,548.9 L504.2,549.1 L504.9,549.1 L505.5,548.8 L506.1,549.0 L506.7,549.3 L507.3,550.3 L508.0,550.7 L508.6,551.5 L509.2,551.2 L509.8,551.2 L510.4,550.9 L511.1,551.0 L511.7,551.6 L512.3,552.6 L512.9,553.0 L513.5,553.6 L514.2,553.3 L514.8,553.4 L515.4,553.8 L516.0,554.4 L516.6,554.8 L517.3,555.7 L517.9,556.9 L518.5,558.0 L519.1,557.8 L519.7,558.3 L520.4,559.0 L521.0,559.5 L521.6,559.2 L522.2,559.8 L522.8,560.6 L523.5,560.8 L524.1,560.1 L524.7,560.5 L525.3,561.1 L525.9,562.0 L526.6,562.7 L527.2,562.9 L527.8,562.7 L528.4,562.9 L529.0,562.9 L529.7,563.6 L530.3,564.0 L530.9,564.1 L531.5,564.1 L532.1,565.0 L532.8,565.7 L533.4,565.7 L534.0,565.7 L534.6,566.7 L535.2,567.5 L535.9,568.3 L536.5,568.5 L537.1,568.2 L537.7,568.0 L538.3,568.9 L539.0,569.6 L539.6,570.5 L540.2,571.0 L540.8,571.7 L541.4,572.5 L542.1,573.6 L542.7,574.5 L543.3,575.6 L543.9,576.5 L544.5,577.1 L545.2,577.3 L545.8,577.6 L546.4,578.3 L547.0,579.2 L547.6,579.8 L548.3,580.5 L548.9,580.7 L549.5,581.0 L550.1,581.8 L550.7,582.6 L551.4,583.2 L552.0,583.8 L552.6,584.2 L553.2,584.6 L553.8,584.7 L554.5,585.0 L555.1,585.4 L555.7,585.8 L556.3,586.4 L556.9,587.3 L557.6,588.1 L558.2,588.9 L558.8,589.8 L559.4,590.6 L562.0,594.0 L564.0,594.0 L571.0,607.6 L575.0,609.0 L580.0,620.0 L592.0,636.0 L602.0,652.0 L612.0,671.0 L622.0,684.0 L631.0,694.4 L642.0,700.0 L660.0,710.0 L711.0,744.0 L775.0,833.0 L832.0,901.5" stroke="#00f" stroke-width="2.6"/>
<path d="M177.5,498.2 L178.1,496.4 L178.7,498.2 L179.4,496.0 L180.0,497.8 L180.6,493.5 L181.2,496.6 L181.8,494.1 L182.5,495.7 L183.1,494.6 L183.7,497.5 L184.3,492.9 L184.9,495.0 L185.6,492.1 L186.2,494.6 L186.8,491.9 L187.4,494.3 L188.0,492.5 L188.7,495.2 L189.3,492.2 L189.9,493.6 L190.5,491.0 L191.1,491.9 L191.8,490.0 L192.4,490.8 L193.0,487.9 L193.6,490.5 L194.2,489.4 L194.9,492.6 L195.5,488.5 L196.1,489.3 L196.7,486.6 L197.3,490.5 L198.0,487.0 L198.6,489.5 L199.2,486.7 L199.8,486.8 L200.4,485.3 L201.1,487.2 L201.7,485.8 L202.3,487.7 L202.9,486.1 L203.5,486.3 L204.2,484.9 L204.8,486.8 L205.4,484.9 L206.0,485.4 L206.6,482.8 L207.3,484.6 L207.9,484.0 L208.5,485.0 L209.1,483.6 L209.7,485.1 L210.4,482.1 L211.0,484.2 L211.6,482.6 L212.2,483.5 L212.8,481.1 L213.5,483.7 L214.1,480.8 L214.7,482.9 L215.3,482.0 L215.9,483.2 L216.6,480.9 L217.2,483.0 L217.8,480.4 L218.4,483.1 L219.0,481.2 L219.7,483.6 L220.3,479.7 L220.9,484.7 L221.5,481.0 L222.1,482.9 L222.8,480.6 L223.4,482.6 L224.0,481.0 L224.6,483.9 L225.2,481.3 L225.9,482.5 L226.5,480.6 L227.1,481.9 L227.7,479.8 L228.3,483.5 L229.0,480.2 L229.6,481.9 L230.2,480.1 L230.8,482.0 L231.4,480.4 L232.1,481.5 L232.7,479.3 L233.3,481.8 L233.9,480.1 L234.5,481.7 L235.2,480.2 L235.8,482.2 L236.4,480.5 L237.0,481.0 L237.6,478.9 L238.3,480.5 L238.9,478.3 L239.5,481.6 L240.1,478.3 L240.7,481.8 L241.4,478.4 L242.0,482.0 L242.6,479.0 L243.2,481.3 L243.8,480.6 L244.5,483.1 L245.1,479.5 L245.7,481.2 L246.3,479.6 L246.9,480.9 L247.6,478.5 L248.2,481.1 L248.8,478.8 L249.4,480.3 L250.0,477.8 L250.7,482.2 L251.3,478.8 L251.9,479.8 L252.5,479.0 L253.1,483.1 L253.8,479.0 L254.4,482.0 L255.0,479.1 L255.6,479.9 L256.2,479.2 L256.9,481.9 L257.5,478.5 L258.1,480.0 L258.7,478.9 L259.3,481.3 L260.0,477.2 L260.6,480.1 L261.2,479.6 L261.8,481.7 L262.4,478.4 L263.1,480.4 L263.7,478.6 L264.3,479.8 L264.9,477.6 L265.5,480.5 L266.2,475.8 L266.8,479.6 L267.4,475.9 L268.0,481.3 L268.6,476.7 L269.3,480.1 L269.9,477.6 L270.5,479.8 L271.1,475.9 L271.7,479.3 L272.4,477.5 L273.0,480.4 L273.6,477.8 L274.2,480.8 L274.8,477.2 L275.5,479.2 L276.1,476.6 L276.7,478.4 L277.3,477.2 L277.9,479.2 L278.6,477.2 L279.2,479.9 L279.8,477.4 L280.4,479.2 L281.0,477.8 L281.7,479.4 L282.3,478.5 L282.9,480.7 L283.5,478.7 L284.1,480.3 L284.8,477.8 L285.4,478.4 L286.0,476.3 L286.6,478.9 L287.2,476.9 L287.9,478.6 L288.5,476.6 L289.1,479.2 L289.7,477.0 L290.3,479.6 L291.0,476.6 L291.6,477.9 L292.2,474.7 L292.8,478.9 L293.4,477.0 L294.1,479.4 L294.7,476.1 L295.3,478.3 L295.9,475.8 L296.5,480.1 L297.2,477.7 L297.8,479.4 L298.4,474.8 L299.0,478.6 L299.6,477.8 L300.3,481.7 L300.9,477.6 L301.5,478.4 L302.1,476.7 L302.7,477.9 L303.4,476.1 L304.0,478.3 L304.6,476.8 L305.2,480.7 L305.8,477.0 L306.5,478.8 L307.1,474.5 L307.7,478.4 L308.3,475.7 L308.9,477.8 L309.6,475.0 L310.2,478.9 L310.8,476.3 L311.4,477.3 L312.0,476.0 L312.7,477.5 L313.3,475.2 L313.9,478.4 L314.5,475.1 L315.1,480.7 L315.8,476.2 L316.4,479.4 L317.0,474.0 L317.6,477.2 L318.2,472.7 L318.9,478.2 L319.5,474.9 L320.1,480.3 L320.7,474.9 L321.3,479.1 L322.0,476.4 L322.6,478.4 L323.2,475.9 L323.8,477.8 L324.4,474.4 L325.1,477.1 L325.7,475.2 L326.3,478.4 L326.9,474.2 L327.5,479.3 L328.2,472.6 L328.8,478.1 L329.4,473.2 L330.0,477.3 L330.6,475.5 L331.3,477.9 L331.9,474.4 L332.5,477.2 L333.1,475.3 L333.7,478.7 L334.4,474.2 L335.0,477.0 L335.6,473.3 L336.2,479.2 L336.8,474.2 L337.5,478.0 L338.1,473.8 L338.7,477.4 L339.3,473.0 L339.9,476.5 L340.6,474.0 L341.2,476.0 L341.8,473.0 L342.4,477.1 L343.0,474.3 L343.7,476.8 L344.3,472.1 L344.9,477.5 L345.5,472.0 L346.1,476.4 L346.8,472.6 L347.4,476.5 L348.0,470.6 L348.6,476.3 L349.2,474.2 L349.9,476.8 L350.5,472.5 L351.1,476.3 L351.7,472.7 L352.3,476.1 L353.0,471.9 L353.6,474.8 L354.2,473.9 L354.8,479.0 L355.4,473.2 L356.1,477.6 L356.7,471.4 L357.3,476.3 L357.9,474.0 L358.5,477.4 L359.2,470.9 L359.8,477.9 L360.4,473.3 L361.0,475.4 L361.6,473.2 L362.3,478.6 L362.9,475.1 L363.5,476.1 L364.1,474.1 L364.7,477.0 L365.4,474.2 L366.0,476.7 L366.6,472.8 L367.2,476.2 L367.8,473.8 L368.5,476.2 L369.1,472.7 L369.7,477.4 L370.3,474.9 L370.9,478.5 L371.6,471.9 L372.2,477.7 L372.8,475.1 L373.4,479.8 L374.0,475.7 L374.7,477.9 L375.3,474.2 L375.9,477.3 L376.5,475.3 L377.1,478.9 L377.8,474.7 L378.4,478.2 L379.0,471.9 L379.6,477.7 L380.2,474.2 L380.9,478.0 L381.5,476.3 L382.1,479.9 L382.7,477.4 L383.3,479.0 L384.0,474.7 L384.6,477.7 L385.2,473.3 L385.8,479.2 L386.4,475.5 L387.1,479.5 L387.7,477.5 L388.3,479.0 L388.9,477.5 L389.5,482.0 L390.2,477.5 L390.8,481.5 L391.4,477.5 L392.0,481.6 L392.6,476.8 L393.3,482.1 L393.9,480.3 L394.5,484.6 L395.1,480.1 L395.7,483.3 L396.4,477.2 L397.0,482.3 L397.6,480.8 L398.2,485.9 L398.8,480.2 L399.5,481.9 L400.1,480.1 L400.7,484.1 L401.3,481.7 L401.9,484.8 L402.6,480.2 L403.2,483.7 L403.8,482.1 L404.4,485.9 L405.0,482.1 L405.7,487.2 L406.3,483.1 L406.9,486.0 L407.5,482.9 L408.1,485.6 L408.8,483.5 L409.4,486.2 L410.0,484.8 L410.6,487.3 L411.2,481.8 L411.9,486.5 L412.5,484.8 L413.1,488.0 L413.7,485.2 L414.3,490.0 L415.0,486.4 L415.6,489.8 L416.2,487.2 L416.8,492.4 L417.4,485.9 L418.1,490.0 L418.7,485.6 L419.3,489.8 L419.9,488.2 L420.5,490.7 L421.2,487.2 L421.8,491.5 L422.4,487.4 L423.0,492.9 L423.6,491.6 L424.3,493.9 L424.9,491.5 L425.5,494.5 L426.1,489.8 L426.7,494.4 L427.4,492.3 L428.0,495.0 L428.6,492.5 L429.2,495.8 L429.8,491.9 L430.5,499.4 L431.1,495.2 L431.7,496.9 L432.3,494.4 L432.9,496.8 L433.6,495.8 L434.2,497.9 L434.8,495.2 L435.4,498.3 L436.0,496.9 L436.7,498.7 L437.3,497.1 L437.9,498.8 L438.5,498.1 L439.1,502.5 L439.8,497.9 L440.4,501.2 L441.0,500.4 L441.6,502.7 L442.2,499.0 L442.9,502.3 L443.5,499.8 L444.1,502.9 L444.7,500.9 L445.3,503.7 L446.0,499.0 L446.6,504.4 L447.2,502.9 L447.8,506.0 L448.4,504.7 L449.1,506.8 L449.7,502.6 L450.3,506.7 L450.9,504.8 L451.5,506.6 L452.2,506.5 L452.8,508.0 L453.4,507.0 L454.0,509.0 L454.6,508.2 L455.3,510.2 L455.9,509.9 L456.5,511.7 L457.1,511.2 L457.7,512.6 L458.4,512.3 L459.0,513.4 L459.6,513.3 L460.2,515.0 L460.8,514.9 L461.5,515.5 L462.1,515.3 L462.7,517.1 L463.3,517.4 L463.9,517.9 L464.6,518.1 L465.2,520.0 L465.8,520.6 L466.4,522.0 L467.0,521.6 L467.7,521.8 L468.3,521.8 L468.9,523.0 L469.5,523.0 L470.1,523.8 L470.8,524.4 L471.4,526.2 L472.0,526.7 L472.6,527.8 L473.2,527.8 L473.9,528.7 L474.5,528.7 L475.1,529.7 L475.7,529.8 L476.3,530.6 L477.0,531.5 L477.6,533.5 L478.2,533.8 L478.8,534.3 L479.4,534.2 L480.1,535.0 L480.7,535.7 L481.3,536.7 L481.9,536.8 L482.5,537.8 L483.2,539.2 L483.8,540.2 L484.4,539.6 L485.0,540.7 L485.6,541.8 L486.3,543.3 L486.9,543.4 L487.5,544.6 L488.1,545.4 L488.7,546.4 L489.4,546.7 L490.0,547.3 L490.6,546.9 L491.2,548.4 L491.8,549.5 L492.5,551.1 L493.1,551.9 L493.7,552.9 L494.3,553.4 L494.9,554.3 L495.6,555.0 L496.2,556.1 L496.8,556.8 L497.4,557.4 L498.0,557.7 L498.7,559.2 L499.3,559.8 L499.9,560.3 L500.5,560.5 L501.1,561.6 L501.8,562.5 L502.4,564.2 L503.0,565.0 L503.6,565.8 L504.2,566.2 L504.9,566.9 L505.5,567.7 L506.1,569.2 L506.7,569.8 L507.3,570.5 L508.0,571.3 L508.6,571.9 L509.2,572.5 L509.8,573.3 L510.4,572.9 L511.1,572.9 L511.7,573.9 L512.3,575.1 L512.9,576.7 L513.5,578.6 L514.2,579.3 L514.8,580.2 L515.4,580.8 L516.0,581.3 L516.6,581.7 L517.3,582.2 L517.9,582.7 L518.5,583.1 L519.1,583.4 L519.7,583.8 L520.4,584.4 L521.0,585.1 L521.6,585.7 L522.2,586.5 L522.8,587.4 L523.5,588.1 L524.1,588.7 L524.7,589.5 L526.0,591.0 L532.0,595.0 L540.0,605.0 L545.0,608.0 L550.0,615.0 L558.0,622.0 L569.0,629.0 L576.0,641.0 L586.0,653.0 L598.0,661.0 L608.0,671.0 L616.0,679.0 L632.0,689.3 L670.0,709.6 L721.0,754.0 L832.0,900.6" stroke="#008000" stroke-width="2.6"/>
</g>
<path d="M178.3,533.4L179.7,532.6M190.3,526.4L191.7,525.6M203.7,518.8L205.1,518.0M216.7,511.0L218.1,510.2M227.3,505.4L228.7,504.6M241.3,497.4L242.7,496.6M255.3,489.0L256.7,488.2M268.7,481.4L270.1,480.6M281.9,474.3L283.3,473.7M296.8,470.2L298.4,469.8M311.6,466.7L313.2,466.5M316.8,467.8L318.4,468.2M331.6,471.2L333.2,471.6M346.2,475.4L347.8,475.8M350.2,475.8L351.8,476.2M365.2,479.4L366.8,479.8M379.6,482.8L381.2,483.2M384.9,485.1L386.3,485.7M398.9,490.7L400.3,491.3M412.3,497.1L413.7,497.7M416.4,498.9L417.6,499.9M426.9,510.0L427.9,511.2M437.1,520.8L438.1,522.0M447.5,531.8L448.5,533.0M450.5,535.4L451.5,536.6M460.5,546.4L461.5,547.6M470.9,557.4L471.9,558.6M481.5,569.0L482.5,570.2M484.4,571.8L485.6,573.0M494.5,581.8L495.5,583.0M504.5,593.0L505.5,594.2M515.1,603.8L516.1,605.0M517.5,607.4L518.5,608.6M528.0,618.8L529.2,620.0M538.4,629.4L539.6,630.6M548.8,640.4L550.0,641.6M551.8,643.4L553.0,644.6M562.1,654.0L563.1,655.2M572.5,665.4L573.5,666.6M582.5,676.4L583.5,677.6M585.5,679.4L586.5,680.6M596.0,691.0L597.0,692.2M606.4,701.9L607.6,703.1M616.5,712.6L617.5,713.8M619.5,716.0L620.5,717.2M630.1,727.0L631.1,728.2M640.1,738.0L641.1,739.2M650.4,748.8L651.6,750.0M653.5,752.0L654.5,753.2M663.9,763.0L664.9,764.2M674.1,774.0L675.1,775.2M684.4,785.0L685.6,786.2M687.5,788.0L688.5,789.2M697.5,798.8L698.5,800.0M707.9,810.0L708.9,811.2M718.5,821.0L719.5,822.2M721.5,824.8L722.5,826.0M731.5,835.4L732.5,836.6M741.5,846.4L742.5,847.6M751.9,857.4L752.9,858.6M755.0,861.0L756.2,862.2M765.0,871.0L766.2,872.2M775.5,882.0L776.5,883.2M785.8,893.0L787.0,894.2M788.9,896.0L789.9,897.2M799.1,907.0L800.1,908.2M809.4,918.0L810.6,919.2M819.4,928.4L820.6,929.6M822.9,932.0L823.9,933.2" stroke="#ff8000" stroke-width="3.0" stroke-linecap="round" fill="none"/>
<path d="M180.5,613.6L181.5,612.4M190.5,601.2L191.5,600.0M199.5,589.0L200.5,587.8M208.5,577.0L209.5,575.8M216.9,565.6L217.9,564.4M220.5,561.6L221.5,560.4M230.5,550.2L231.5,549.0M240.8,539.0L242.0,537.8M245.8,534.9L247.0,533.9M258.0,525.3L259.2,524.3M269.8,515.9L271.0,514.9M282.0,506.5L283.2,505.5M285.3,504.4L286.7,503.6M298.3,498.3L299.7,497.7M311.7,491.7L313.1,491.1M316.8,490.2L318.4,489.8M331.6,487.1L333.2,486.9M346.2,484.5L347.8,484.3M350.2,484.3L351.8,484.5M365.2,485.5L366.8,485.7M379.6,486.9L381.2,487.1M384.8,487.7L386.4,488.3M398.8,493.3L400.4,493.9M412.2,497.7L413.8,498.3M414.9,498.5L416.3,499.5M422.4,504.5L423.6,505.5M434.7,513.6L436.1,514.4M447.4,521.5L448.6,522.5M451.1,525.4L452.1,526.6M461.1,536.8L462.1,538.0M471.5,548.0L472.5,549.2M481.5,559.4L482.5,560.6M484.5,563.0L485.5,564.2M494.5,574.4L495.5,575.6M504.5,585.4L505.5,586.6M515.1,596.8L516.1,598.0M518.5,600.4L519.5,601.6M528.9,611.8L529.9,613.0M538.5,622.8L539.5,624.0M548.9,634.4L549.9,635.6M552.5,638.0L553.5,639.2M562.5,649.4L563.5,650.6M572.5,660.4L573.5,661.6M582.5,671.8L583.5,673.0M586.1,675.8L587.1,677.0M596.5,687.0L597.5,688.2M606.5,698.1L607.5,699.3M616.5,709.2L617.5,710.4M619.9,713.2L620.9,714.4M630.1,725.0L631.1,726.2M640.1,736.0L641.1,737.2M650.5,747.4L651.5,748.6M653.5,751.0L654.5,752.2M663.9,762.4L664.9,763.6M674.1,773.4L675.1,774.6M684.5,784.8L685.5,786.0M687.9,788.0L688.9,789.2M697.9,799.0L698.9,800.2M707.9,810.0L708.9,811.2M718.5,821.4L719.5,822.6M721.9,825.4L722.9,826.6M731.9,836.4L732.9,837.6M741.9,847.4L742.9,848.6M752.5,859.0L753.5,860.2M755.5,861.8L756.5,863.0M765.9,874.4L766.9,875.6M775.9,885.4L776.9,886.6M786.1,896.8L787.1,898.0M789.5,900.4L790.5,901.6M799.9,911.8L800.9,913.0M809.9,922.8L810.9,924.0M820.1,933.8L821.1,935.0M823.5,937.8L824.5,939.0" stroke="#808000" stroke-width="3.0" stroke-linecap="round" fill="none"/>
<path d="M177.5,389.75V958M171.5,946.0H830M171.5,391.0H177.5M165.7,424.9H177.5M165.7,536.0H177.5M165.7,647.1H177.5M165.7,758.2H177.5M165.7,869.3H177.5M171.5,502.6H177.5M171.5,483.0H177.5M171.5,469.1H177.5M171.5,458.3H177.5M171.5,449.5H177.5M171.5,442.1H177.5M171.5,435.7H177.5M171.5,430.0H177.5M171.5,613.7H177.5M171.5,594.1H177.5M171.5,580.2H177.5M171.5,569.4H177.5M171.5,560.6H177.5M171.5,553.2H177.5M171.5,546.8H177.5M171.5,541.1H177.5M171.5,724.8H177.5M171.5,705.2H177.5M171.5,691.3H177.5M171.5,680.5H177.5M171.5,671.7H177.5M171.5,664.3H177.5M171.5,657.9H177.5M171.5,652.2H177.5M171.5,835.9H177.5M171.5,816.3H177.5M171.5,802.4H177.5M171.5,791.6H177.5M171.5,782.8H177.5M171.5,775.4H177.5M171.5,769.0H177.5M171.5,763.3H177.5M171.5,927.4H177.5M171.5,913.5H177.5M171.5,902.7H177.5M171.5,893.9H177.5M171.5,886.5H177.5M171.5,880.1H177.5M171.5,874.4H177.5M177.5,946.0V958M218.3,946.0V952.6M242.2,946.0V952.6M259.1,946.0V952.6M272.3,946.0V952.6M283.0,946.0V952.6M292.1,946.0V952.6M300.0,946.0V952.6M306.9,946.0V952.6M313.1,946.0V958M353.9,946.0V952.6M377.8,946.0V952.6M394.7,946.0V952.6M407.9,946.0V952.6M418.6,946.0V952.6M427.7,946.0V952.6M435.6,946.0V952.6M442.5,946.0V952.6M448.7,946.0V958M489.5,946.0V952.6M513.4,946.0V952.6M530.3,946.0V952.6M543.5,946.0V952.6M554.2,946.0V952.6M563.3,946.0V952.6M571.2,946.0V952.6M578.1,946.0V952.6M584.3,946.0V958M625.1,946.0V952.6M649.0,946.0V952.6M665.9,946.0V952.6M679.1,946.0V952.6M689.8,946.0V952.6M698.9,946.0V952.6M706.8,946.0V952.6M713.7,946.0V952.6M719.9,946.0V958M760.7,946.0V952.6M784.6,946.0V952.6M801.5,946.0V952.6M814.7,946.0V952.6M825.4,946.0V952.6" stroke="#000" stroke-width="2.5" fill="none" stroke-linecap="butt"/>
<text transform="translate(178.10,985.20) scale(1.0,1.04)" font-family="Liberation Sans, sans-serif" font-size="25.3" text-anchor="middle" stroke="#000" stroke-width="0.5">0.01</text>
<text transform="translate(313.70,985.20) scale(1.0,1.04)" font-family="Liberation Sans, sans-serif" font-size="25.3" text-anchor="middle" stroke="#000" stroke-width="0.5">0.1</text>
<text transform="translate(448.40,985.20) scale(1.0,1.04)" font-family="Liberation Sans, sans-serif" font-size="25.3" text-anchor="middle" stroke="#000" stroke-width="0.5">1</text>
<text transform="translate(584.00,985.20) scale(1.0,1.04)" font-family="Liberation Sans, sans-serif" font-size="25.3" text-anchor="middle" stroke="#000" stroke-width="0.5">10</text>
<text transform="translate(719.60,985.20) scale(1.0,1.04)" font-family="Liberation Sans, sans-serif" font-size="25.3" text-anchor="middle" stroke="#000" stroke-width="0.5">100</text>
<text transform="translate(151.60,434.80) scale(1.0,1.04)" font-family="Liberation Sans, sans-serif" font-size="25.3" text-anchor="end" stroke="#000" stroke-width="0.5">10</text>
<text transform="translate(159.60,421.50) scale(1.0,1.03)" font-family="Liberation Sans, sans-serif" font-size="15.6" text-anchor="end" stroke="#000" stroke-width="0.5">0</text>
<text transform="translate(147.00,545.90) scale(1.0,1.04)" font-family="Liberation Sans, sans-serif" font-size="25.3" text-anchor="end" stroke="#000" stroke-width="0.5">10</text>
<text transform="translate(159.60,532.60) scale(1.0,1.03)" font-family="Liberation Sans, sans-serif" font-size="15.6" text-anchor="end" stroke="#000" stroke-width="0.5">-1</text>
<text transform="translate(147.00,657.00) scale(1.0,1.04)" font-family="Liberation Sans, sans-serif" font-size="25.3" text-anchor="end" stroke="#000" stroke-width="0.5">10</text>
<text transform="translate(159.60,643.70) scale(1.0,1.03)" font-family="Liberation Sans, sans-serif" font-size="15.6" text-anchor="end" stroke="#000" stroke-width="0.5">-2</text>
<text transform="translate(147.00,768.10) scale(1.0,1.04)" font-family="Liberation Sans, sans-serif" font-size="25.3" text-anchor="end" stroke="#000" stroke-width="0.5">10</text>
<text transform="translate(159.60,754.80) scale(1.0,1.03)" font-family="Liberation Sans, sans-serif" font-size="15.6" text-anchor="end" stroke="#000" stroke-width="0.5">-3</text>
<text transform="translate(147.00,879.20) scale(1.0,1.04)" font-family="Liberation Sans, sans-serif" font-size="25.3" text-anchor="end" stroke="#000" stroke-width="0.5">10</text>
<text transform="translate(159.60,865.90) scale(1.0,1.03)" font-family="Liberation Sans, sans-serif" font-size="15.6" text-anchor="end" stroke="#000" stroke-width="0.5">-4</text>
<text transform="translate(383.20,1027.00) scale(1.0,0.975)" font-family="Liberation Sans, sans-serif" font-size="27.3" text-anchor="start" stroke="#000" stroke-width="0.5">Mass of Protostar</text>
<text transform="translate(604.90,1028.00) scale(1.0,0.975)" font-family="Liberation Sans, sans-serif" font-size="27.3" text-anchor="start" stroke="#000" stroke-width="0.5">[</text>
<text transform="translate(612.20,1027.00)" font-family="Liberation Sans, sans-serif" font-size="21.6" text-anchor="start" stroke="#000" stroke-width="0.5">M</text>
<text transform="translate(641.30,1027.80) scale(1.0,0.975)" font-family="Liberation Sans, sans-serif" font-size="27.3" text-anchor="start" stroke="#000" stroke-width="0.5">]</text>
<circle cx="637" cy="1034.9" r="4.2" fill="none" stroke="#000" stroke-width="1.1"/><circle cx="637" cy="1034.9" r="1.1" fill="#000"/>
<text transform="translate(91.40,793.00) rotate(-90) scale(1.0,0.975)" font-family="Liberation Sans, sans-serif" font-size="27.3" text-anchor="start" stroke="#000" stroke-width="0.5">IMF [dN/d(log M)]</text>
<rect x="227.5" y="613.5" width="257" height="284" fill="#fff" stroke="#111" stroke-width="1"/>
<text transform="translate(253.60,647.90) scale(1.0,1.06)" font-family="Liberation Sans, sans-serif" font-size="24.6" text-anchor="start" stroke="#000" stroke-width="0.5">Canonical IMF</text>
<text transform="translate(315.30,677.60) scale(1.0,1.06)" font-family="Liberation Sans, sans-serif" font-size="24.6" text-anchor="start" stroke="#000" stroke-width="0.5">Kroupa 2002</text>
<text transform="translate(315.70,707.90) scale(1.0,1.06)" font-family="Liberation Sans, sans-serif" font-size="24.6" text-anchor="start" stroke="#000" stroke-width="0.5">Chabrier 2005</text>
<text transform="translate(253.60,737.30) scale(1.0,1.06)" font-family="Liberation Sans, sans-serif" font-size="24.6" text-anchor="start" stroke="#000" stroke-width="0.5">Simulated IMF</text>
<path d="M252.8,759.7H308.8" stroke="#000" stroke-width="2.2"/>
<text transform="translate(314.90,768.40) scale(1.0,1.06)" font-family="Liberation Sans, sans-serif" font-size="24.6" text-anchor="start" stroke="#000" stroke-width="0.5">EOS</text>
<text transform="translate(366.90,768.40) scale(1.12,1.0)" font-family="Liberation Serif, serif" font-size="22" text-anchor="start" stroke="#000" stroke-width="0.5">Σ</text>
<text transform="translate(381.20,768.40) scale(1.0,1.06)" font-family="Liberation Sans, sans-serif" font-size="24.6" text-anchor="start" stroke="#000" stroke-width="0.5">_T10</text>
<path d="M252.8,791H308.8" stroke="#f0f" stroke-width="2.2"/>
<text transform="translate(314.90,799.20) scale(1.0,1.06)" font-family="Liberation Sans, sans-serif" font-size="24.6" text-anchor="start" stroke="#000" stroke-width="0.5">EOS</text>
<text transform="translate(366.90,799.20) scale(1.12,1.0)" font-family="Liberation Serif, serif" font-size="22" text-anchor="start" stroke="#000" stroke-width="0.5">Σ</text>
<text transform="translate(381.20,799.20) scale(1.0,1.06)" font-family="Liberation Sans, sans-serif" font-size="24.6" text-anchor="start" stroke="#000" stroke-width="0.5">_T20</text>
<path d="M252.8,821.8H308.8" stroke="#f00" stroke-width="2.2"/>
<text transform="translate(314.90,830.30) scale(1.0,1.06)" font-family="Liberation Sans, sans-serif" font-size="24.6" text-anchor="start" stroke="#000" stroke-width="0.5">EOS</text>
<text transform="translate(366.90,830.30) scale(1.12,1.0)" font-family="Liberation Serif, serif" font-size="22" text-anchor="start" stroke="#000" stroke-width="0.5">Σ</text>
<text transform="translate(381.20,830.30) scale(1.0,1.06)" font-family="Liberation Sans, sans-serif" font-size="24.6" text-anchor="start" stroke="#000" stroke-width="0.5">_T75</text>
<path d="M252.8,852.8H308.8" stroke="#008000" stroke-width="2.2"/>
<text transform="translate(314.90,861.30) scale(1.0,1.06)" font-family="Liberation Sans, sans-serif" font-size="24.6" text-anchor="start" stroke="#000" stroke-width="0.5">EOS</text>
<text transform="translate(366.90,861.30) scale(1.12,1.0)" font-family="Liberation Serif, serif" font-size="22" text-anchor="start" stroke="#000" stroke-width="0.5">Σ</text>
<text transform="translate(381.20,861.30) scale(1.0,1.06)" font-family="Liberation Sans, sans-serif" font-size="24.6" text-anchor="start" stroke="#000" stroke-width="0.5">_hiMach</text>
<path d="M252.8,884.2H308.8" stroke="#00f" stroke-width="2.2"/>
<text transform="translate(314.90,892.30) scale(1.0,1.06)" font-family="Liberation Sans, sans-serif" font-size="24.6" text-anchor="start" stroke="#000" stroke-width="0.5">EOS</text>
<text transform="translate(366.90,892.30) scale(1.12,1.0)" font-family="Liberation Serif, serif" font-size="22" text-anchor="start" stroke="#000" stroke-width="0.5">Σ</text>
<text transform="translate(381.20,892.30) scale(1.0,1.06)" font-family="Liberation Sans, sans-serif" font-size="24.6" text-anchor="start" stroke="#000" stroke-width="0.5">_ULIRG</text>
<path d="M254.20000000000002,669.2h1.2M269.4,669.2h1.2M284.2,669.2h1.2M298.7,669.2h1.2" stroke="#ff8000" stroke-width="3.1" stroke-linecap="round"/>
<path d="M254.20000000000002,699.5h1.2M269.4,699.5h1.2M284.2,699.5h1.2M298.7,699.5h1.2" stroke="#808000" stroke-width="3.1" stroke-linecap="round"/>
</svg>
</body></html>
